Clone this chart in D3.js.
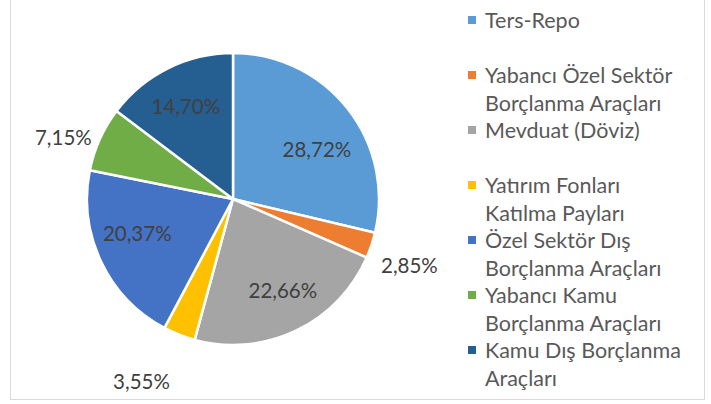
<!DOCTYPE html>
<html>
<head>
<meta charset="utf-8">
<script src="https://cdn.jsdelivr.net/npm/d3@7"></script>
<style>
  html, body { margin: 0; padding: 0; background: #fff; }
  #chart { width: 711px; height: 404px; }
</style>
</head>
<body>
<div id="chart"></div>
<script>
// veri
const categories = [
    'Ters-Repo',
    'Yabancı Özel Sektör Borçlanma Araçları',
    'Mevduat (Döviz)',
    'Yatırım Fonları Katılma Payları',
    'Özel Sektör Dış Borçlanma Araçları',
    'Yabancı Kamu Borçlanma Araçları',
    'Kamu Dış Borçlanma Araçları'
];
const values = [28.72, 2.85, 22.66, 3.55, 20.37, 7.15, 14.70];
const valueLabels = ['28,72%', '2,85%', '22,66%', '3,55%', '20,37%', '7,15%', '14,70%'];
// lejant satırları (Excel'deki gibi kırılmış)
const legendLines = [
    ['Ters-Repo'],
    ['Yabancı Özel Sektör', 'Borçlanma Araçları'],
    ['Mevduat (Döviz)'],
    ['Yatırım Fonları', 'Katılma Payları'],
    ['Özel Sektör Dış', 'Borçlanma Araçları'],
    ['Yabancı Kamu', 'Borçlanma Araçları'],
    ['Kamu Dış Borçlanma', 'Araçları']
];
const colors = ['#5B9BD5', '#ED7D31', '#A5A5A5', '#FFC000', '#4472C4', '#70AD47', '#255E91'];

function drawPie() {
    const width = 711, height = 404;
    const cx = 233, cy = 199, radius = 146;
    const font = 'Lato, Calibri, sans-serif';
    // Excel "best fit" etiket kaydırmaları (px)
    const labelNudge = [[6, 12], [0, 8], [7, 2], [-23, 10], [-6, -8], [0, 15], [-3, -3]];

    const svg = d3.select('#chart').append('svg')
        .attr('width', width)
        .attr('height', height);

    // çerçeve
    svg.append('rect')
        .attr('x', 10.5)
        .attr('y', -1.5)
        .attr('width', 694)
        .attr('height', 401)
        .attr('fill', '#fff')
        .attr('stroke', '#d9d9d9')
        .attr('stroke-width', 1);

    const pie = d3.pie().sort(null).value(d => d);
    const arcs = pie(values);

    const arc = d3.arc().innerRadius(0).outerRadius(radius);
    const labelArc = d3.arc().innerRadius(radius * 0.68).outerRadius(radius * 0.68);

    const g = svg.append('g').attr('transform', `translate(${cx},${cy})`);

    g.selectAll('path.slice')
        .data(arcs)
        .join('path')
        .attr('class', 'slice')
        .attr('d', arc)
        .attr('fill', (d, i) => colors[i])
        .attr('stroke', '#fff')
        .attr('stroke-width', 2.5)
        .attr('stroke-linejoin', 'round');

    // etiketler: küçük dilimler dışarıda
    g.selectAll('text.lbl')
        .data(arcs)
        .join('text')
        .attr('class', 'lbl')
        .attr('transform', (d, i) => {
            const share = d.value / d3.sum(values);
            const a = (d.startAngle + d.endAngle) / 2;
            let p;
            if (share < 0.1) {
                const r = radius + 40;
                p = [Math.sin(a) * r, -Math.cos(a) * r];
            } else {
                p = labelArc.centroid(d);
            }
            return `translate(${p[0] + labelNudge[i][0]},${p[1] + labelNudge[i][1]})`;
        })
        .attr('text-anchor', 'middle')
        .attr('dy', '0.35em')
        .attr('fill', '#404040')
        .style('font-family', font)
        .style('font-size', '20.5px')
        .text((d, i) => valueLabels[i]);

    // lejant
    const legend = svg.append('g').attr('class', 'legend');
    const lx = 468, ly0 = 20, step = 55, lineH = 28;

    legendLines.forEach((lines, i) => {
        const y = ly0 + i * step;
        legend.append('rect')
            .attr('x', lx)
            .attr('y', y - 4)
            .attr('width', 8)
            .attr('height', 8)
            .attr('fill', colors[i]);
        lines.forEach((t, j) => {
            legend.append('text')
                .attr('x', lx + 17)
                .attr('y', y + j * lineH)
                .attr('dy', '0.35em')
                .attr('fill', '#595959')
                .style('font-family', font)
                .style('font-size', '21.5px')
                .text(t);
        });
    });
}

drawPie();
</script>
</body>
</html>
